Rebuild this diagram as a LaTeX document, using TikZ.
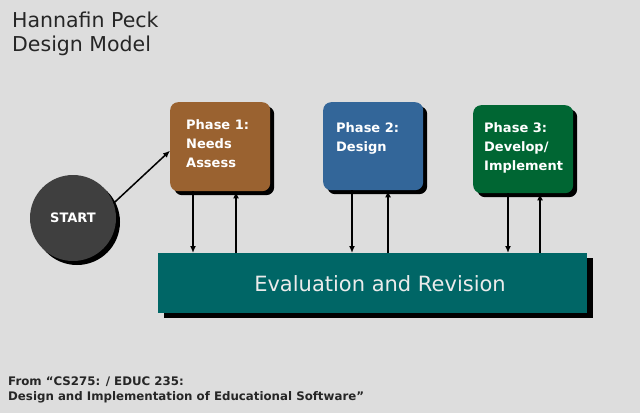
\documentclass[tikz,border=0pt]{standalone}
\usepackage{fontspec}
\setmainfont{DejaVu Sans}
\usetikzlibrary{arrows.meta,shadows,calc}
\definecolor{bg}{HTML}{DDDDDD}
\definecolor{brownph}{HTML}{9A6230}
\definecolor{blueph}{HTML}{336699}
\definecolor{greenph}{HTML}{006633}
\definecolor{tealev}{HTML}{006666}
\definecolor{startc}{HTML}{3F3F3F}
\begin{document}
\begin{tikzpicture}[x=1pt,y=-1pt,
  shd/.style={general shadow={shadow xshift=4pt, shadow yshift=-4pt, fill=black, opacity=1}},
  phasebox/.style={shd, rectangle, rounded corners=8pt, minimum width=100pt, anchor=north west, inner sep=0pt},
  phasetext/.style={anchor=north west, inner sep=0pt, align=left, text=white, font=\bfseries\fontsize{13}{19}\selectfont},
  flow/.style={line width=1.5pt, -{Latex[length=7pt,width=6pt]}},
]
\fill[bg] (0,0) rectangle (640,413);
\useasboundingbox (0,0) rectangle (640,413);

% title
\node[anchor=north west, inner sep=0pt, align=left, font=\fontsize{20.5}{24}\selectfont, text=black!85] (title) at (12,12) {Hannafin Peck\\Design Model};

% phases
\node[phasebox, fill=brownph, minimum height=89pt] (p1) at (170,102) {};
\node[phasebox, fill=blueph, minimum height=88pt] (p2) at (323,102) {};
\node[phasebox, fill=greenph, minimum height=88pt] (p3) at (473,105) {};
\node[phasetext] (p1t) at (186,119) {Phase 1:\\Needs\\Assess};
\node[phasetext] (p2t) at (336,122) {Phase 2:\\Design};
\node[phasetext] (p3t) at (484,122) {Phase 3:\\Develop/\\Implement};

% start
\node[shd, circle, fill=startc, minimum size=86pt, inner sep=0pt, text=white, font=\bfseries\fontsize{13}{15}\selectfont] (start) at (73,218) {START};

% evaluation
\node[general shadow={shadow xshift=6pt, shadow yshift=-5pt, fill=black, opacity=1}, rectangle, fill=tealev, minimum width=429pt, minimum height=60pt, anchor=north west, inner sep=0pt] (ev) at (158,253) {};
\node[text=white!92!black, font=\fontsize{21}{24}\selectfont] (evt) at (380,284) {Evaluation and Revision};

% connectors
\draw[flow] (start.20) -- ([yshift=-4pt]p1.west);
\coordinate (a1) at ($(p1.south west)+(23,0)$);
\coordinate (b1) at ($(p1.south west)+(66,0)$);
\coordinate (a2) at ($(p2.south west)+(29,0)$);
\coordinate (b2) at ($(p2.south west)+(65,0)$);
\coordinate (a3) at ($(p3.south west)+(35,0)$);
\coordinate (b3) at ($(p3.south west)+(67,0)$);
\draw[flow] (a1) -- (a1 |- ev.north);
\draw[flow] (b1 |- ev.north) -- (b1);
\draw[flow] (a2) -- (a2 |- ev.north);
\draw[flow] (b2 |- ev.north) -- (b2);
\draw[flow] (a3) -- (a3 |- ev.north);
\draw[flow] (b3 |- ev.north) -- (b3);

% footer
\node[anchor=north west, inner sep=0pt, align=left, font=\bfseries\fontsize{11.8}{15}\selectfont, text=black!85] (src) at (8,377) {From “CS275: / EDUC 235:\\Design and Implementation of Educational Software”};
\end{tikzpicture}
\end{document}
